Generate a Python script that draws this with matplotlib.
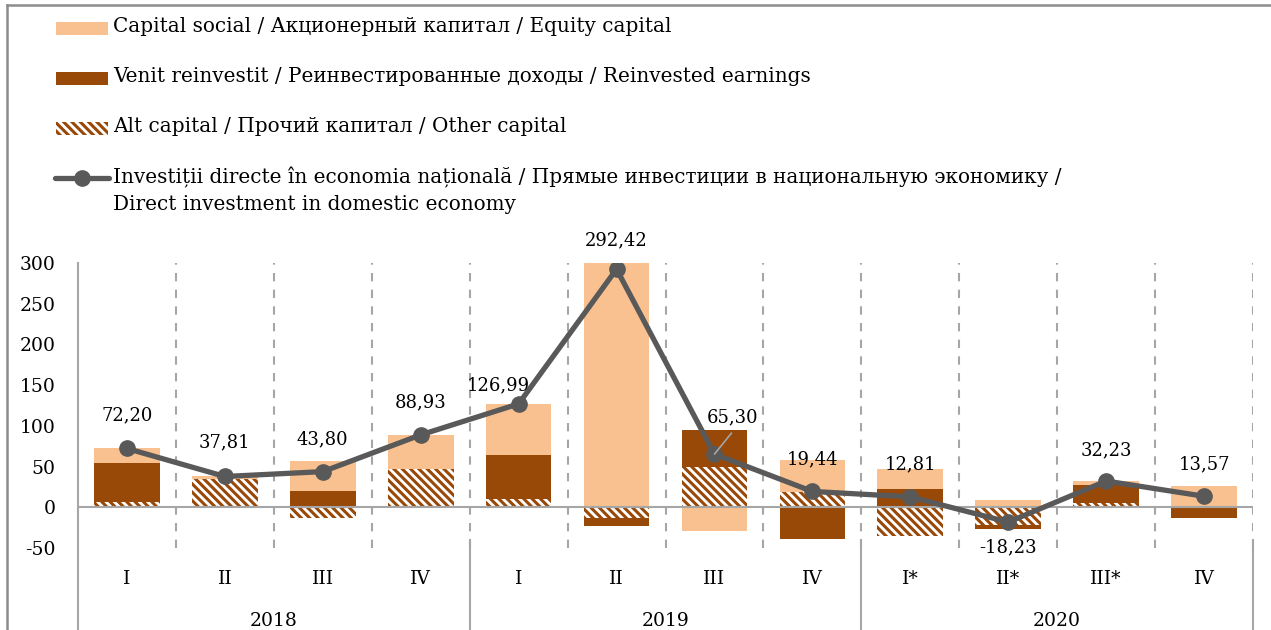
import numpy as np
import matplotlib
matplotlib.use("Agg")
import matplotlib.pyplot as plt
from matplotlib.patches import Rectangle
from matplotlib.lines import Line2D
import matplotlib.transforms as mtransforms

# Data (mil. USD)
quarters = ['I', 'II', 'III', 'IV', 'I', 'II', 'III', 'IV', 'I*', 'II*', 'III*', 'IV']
years = ['2018', '2019', '2020']
equity = [18.2, 2.81, 37.0, 41.33, 62.2, 315.8, -29.0, 39.0, 24.6, 8.7, 4.9, 25.5]
reinvested = [48.0, 0.0, 20.3, 0.0, 54.1, -10.3, 44.7, -38.5, 23.0, -4.63, 22.0, -12.73]
other = [6.0, 35.0, -13.5, 47.6, 10.7, -13.1, 49.6, 18.94, -34.79, -22.3, 5.33, 0.8]
total = [72.20, 37.81, 43.80, 88.93, 126.99, 292.42, 65.30, 19.44, 12.81, -18.23, 32.23, 13.57]

label_offsets = [(0, 33), (0, 34), (0, 32), (0, 33), (-20, 19), (0, 29),
                 (18, 37), (0, 32), (0, 32), (0, -25), (0, 31), (0, 32)]

c_equity = '#F9C18F'
c_reinv = '#984807'
c_line = '#595959'
c_grid = '#A6A6A6'
hatch = '\\\\\\\\'
fs = 13
fs_tick = 13.5
fs_legend = 14.4

plt.rcParams['font.family'] = ['DejaVu Serif']
plt.rcParams['hatch.linewidth'] = 2.2
plt.rcParams['axes.unicode_minus'] = False

W, H = 1271, 630
fig = plt.figure(figsize=(W / 100, H / 100), dpi=100)
ax = fig.add_axes([78 / W, (H - 548) / H, (1253 - 78) / W, (548 - 263) / H])

x = np.arange(len(quarters))
width = 0.67

# stack order: other, reinvested, equity (positives up, negatives down)
pos_bottom = np.zeros(len(x))
neg_bottom = np.zeros(len(x))
series = [
    (other, dict(color='white', edgecolor=c_reinv, hatch=hatch, linewidth=0)),
    (reinvested, dict(color=c_reinv, linewidth=0)),
    (equity, dict(color=c_equity, linewidth=0)),
]
for vals, style in series:
    vals = np.array(vals)
    bottoms = np.where(vals >= 0, pos_bottom, neg_bottom)
    ax.bar(x, vals, width, bottom=bottoms, zorder=2, **style)
    pos_bottom += np.where(vals >= 0, vals, 0)
    neg_bottom += np.where(vals < 0, vals, 0)

ax.plot(x, total, color=c_line, lw=3.8, marker='o', ms=11, zorder=4,
        solid_capstyle='round')

for i, v in enumerate(total):
    txt = f'{v:.2f}'.replace('.', ',')
    dx, dy = label_offsets[i]
    ax.annotate(txt, (x[i], v), xytext=(dx, dy), textcoords='offset pixels',
                ha='center', va='center', fontsize=fs, color='black',
                annotation_clip=False, zorder=5)
# leader line for 65,30
ax.annotate('', (x[6], total[6]), xytext=(17, 21), textcoords='offset pixels',
            arrowprops=dict(arrowstyle='-', color=c_grid, lw=1.2,
                            shrinkA=0, shrinkB=0), zorder=5)

ax.set_xlim(-0.5, len(x) - 0.5)
ax.set_ylim(-50, 300)
ax.set_yticks(range(-50, 301, 50))
ax.tick_params(axis='y', length=0, pad=16, labelsize=fs_tick)
ax.set_xticks([])
for s in ax.spines.values():
    s.set_visible(False)

ax.axhline(0, color=c_grid, lw=1.5, zorder=3)
for k in range(len(x)):
    ax.axvline(k + 0.5, color=c_grid, lw=1.5, ls=(0, (4, 4)), zorder=1)

# category axis below the plot
trans = mtransforms.blended_transform_factory(ax.transData, ax.transAxes)
ax.plot([-0.5, -0.5], [1, -0.3], transform=trans, color=c_grid, lw=1.5,
        clip_on=False)
for xs in [3.5, 7.5, 11.5]:
    ax.plot([xs, xs], [0.028, -0.3], transform=trans, color=c_grid, lw=1.5,
            clip_on=False)
for i, q in enumerate(quarters):
    ax.text(x[i], -0.11, q, transform=trans, ha='center', va='center',
            fontsize=fs_tick)
for j, yr in enumerate(years):
    ax.text(j * 4 + 1.5, -0.255, yr, transform=trans, ha='center',
            va='center', fontsize=fs_tick)

# outer frame
fig.add_artist(Line2D([7 / W, 1], [1 - 5 / H, 1 - 5 / H], color='#8C8C8C', lw=1.8))
fig.add_artist(Line2D([7 / W, 7 / W], [0, 1 - 5 / H], color='#8C8C8C', lw=1.8))

# legend
def fx(px):
    return px / W

def fy(py):
    return 1 - py / H

fig.add_artist(Rectangle((fx(56), fy(34.5)), 52 / W, 12.5 / H,
                         facecolor=c_equity, linewidth=0))
fig.add_artist(Rectangle((fx(56), fy(84.5)), 52 / W, 12.5 / H,
                         facecolor=c_reinv, linewidth=0))
fig.add_artist(Rectangle((fx(56), fy(134.5)), 52 / W, 12.5 / H,
                         facecolor='white', edgecolor=c_reinv, hatch=hatch,
                         linewidth=0))
fig.add_artist(Line2D([fx(55), fx(109)], [fy(178), fy(178)], color=c_line,
                      lw=3.8, solid_capstyle='round'))
fig.add_artist(Line2D([fx(82)], [fy(178)], color=c_line, marker='o', ms=11))

legend_texts = [
    (27, 'Capital social / Акционерный капитал / Equity capital'),
    (77, 'Venit reinvestit / Реинвестированные доходы / Reinvested earnings'),
    (127, 'Alt capital / Прочий капитал / Other capital'),
    (177, 'Investiții directe în economia națională / Прямые инвестиции в национальную экономику /'),
    (204, 'Direct investment in domestic economy'),
]
for py, t in legend_texts:
    fig.text(fx(113), fy(py), t, ha='left', va='center', fontsize=fs_legend)

fig.savefig('out.png', dpi=100)
